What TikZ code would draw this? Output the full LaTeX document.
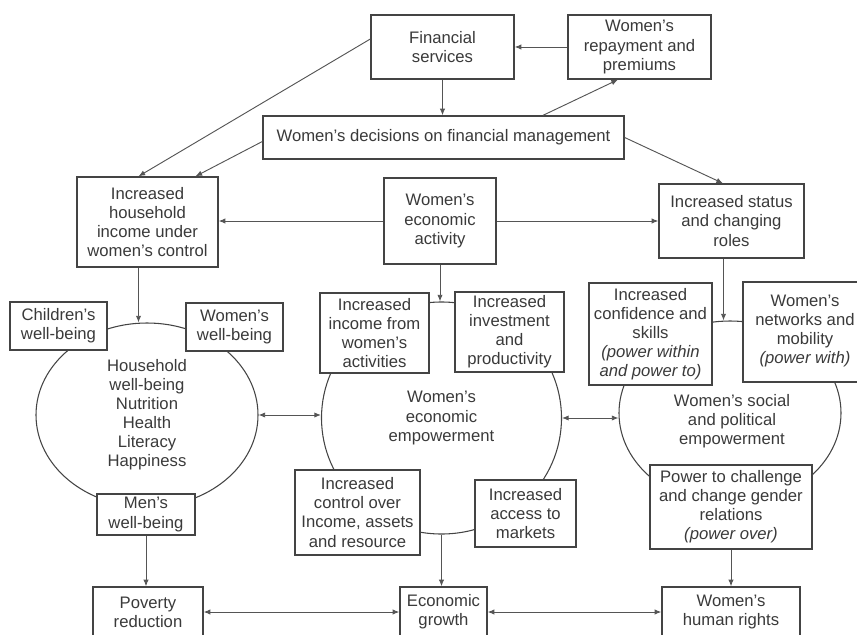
\documentclass[tikz,border=0pt]{standalone}
\usepackage{fontspec}
\setmainfont{Liberation Sans}
\usetikzlibrary{shapes.geometric,arrows.meta,calc}
\definecolor{linec}{HTML}{444444}
\definecolor{arrc}{HTML}{555555}
\definecolor{textc}{HTML}{3A3A3A}
\begin{document}
\begin{tikzpicture}[x=0.75pt,y=-0.75pt,
  font=\fontsize{12.5}{14.3}\selectfont,
  bx/.style={draw=linec, line width=1pt, fill=white, inner sep=0pt, align=center, text=textc},
  sz/.style 2 args={minimum width=#1*0.75pt, minimum height=#2*0.75pt},
  el/.style={draw=linec, line width=0.8pt, ellipse, inner sep=0pt, align=center, text=textc},
  arr/.style={draw=arrc, line width=0.7pt, -{Latex[length=5pt,width=4pt]}},
  darr/.style={draw=arrc, line width=0.7pt, {Latex[length=5pt,width=4pt]}-{Latex[length=5pt,width=4pt]}},
  txt/.style={align=center, text=textc, inner sep=0pt}]
\useasboundingbox (0,0) rectangle (857,635);
\clip (0,0) rectangle (857,635);

% ellipses
\node[el, sz={222}{184}] (hh) at (147,415) {Household\\well-being\\Nutrition\\Health\\Literacy\\Happiness};
\node[el, sz={240}{232}] (ee) at (441.5,418) {Women's\\economic\\empowerment};
\node[el, sz={222}{184}] (sp) at (730,413) {};
\node[txt] (spt) at (732,421) {Women's social\\and political\\empowerment};

% boxes
\node[bx, sz={143}{64}] (fs) at (442.5,47) {Financial\\services};
\node[bx, sz={143}{64}] (rp) at (639.5,47) {Women's\\repayment and\\premiums};
\node[bx, sz={361}{43}] (dec) at (443.5,137.5) {Women's decisions on financial management};
\node[bx, sz={141}{90}] (hinc) at (147.5,222) {Increased\\household\\income under\\women's control};
\node[bx, sz={112}{86}] (eact) at (440,221) {Women's\\economic\\activity};
\node[bx, sz={145}{74}] (stat) at (731.5,221) {Increased status\\and changing\\roles};
\node[bx, sz={97}{48}] (cw) at (58.5,326) {Children's\\well-being};
\node[bx, sz={97}{48}] (ww) at (234.5,327) {Women's\\well-being};
\node[bx, sz={98}{41}] (mw) at (146,514.5) {Men's\\well-being};
\node[bx, sz={109}{80}] (inc) at (374.5,333) {Increased\\income from\\women's\\activities};
\node[bx, sz={109}{80}] (inv) at (509.5,332) {Increased\\investment\\and\\productivity};
\node[bx, sz={125}{85}] (ctl) at (357.5,512.5) {Increased\\control over\\Income, assets\\and resource};
\node[bx, sz={101}{67}] (acc) at (525.5,513.5) {Increased\\access to\\markets};
\node[bx, sz={123}{102}] (conf) at (650.5,334) {Increased\\confidence and\\skills\\\textit{(power within}\\\textit{and power to)}};
\node[bx, sz={127}{100}] (net) at (806.5,332) {};
\node[txt] (nett) at (805,331) {Women's\\networks and\\mobility\\\textit{(power with)}};
\node[bx, sz={162}{84}] (pow) at (731,507) {Power to challenge\\and change gender\\relations\\\textit{(power over)}};
\node[bx, sz={110}{50}] (pov) at (148,612) {Poverty\\reduction};
\node[bx, sz={87}{50}] (eg) at (443.5,612) {Economic\\growth};
\node[bx, sz={138}{50}] (hr) at (731,612) {Women's\\human rights};

% connectors
\draw[arr] ($(fs.west)+(0,-8)$) -- ($(hinc.north)+(-9,0)$);
\draw[arr] ($(dec.west)+(0,4)$) -- ($(hinc.north)+(48,0)$);
\draw[arr] (fs.south) -- (fs.south |- dec.north);
\draw[arr] (rp.west) -- (fs.east);
\draw[arr] ($(dec.north)+(99.5,0)$) -- ($(rp.south)+(-21.5,0)$);
\draw[arr] (dec.east) -- ($(stat.north)+(-8.5,0)$);
\draw[arr] (eact.west) -- (hinc.east |- eact.west);
\draw[arr] (eact.east) -- (stat.west |- eact.east);
\coordinate (a1) at ($(hinc.south)+(-9,0)$);
\draw[arr] (a1) -- (a1 |- hh.north);
\draw[arr] (eact.south) -- (eact.south |- ee.north);
\coordinate (a2) at ($(stat.south)+(-8,0)$);
\draw[arr] (a2) -- (a2 |- sp.north);
\draw[darr] (hh.east) -- (hh.east -| ee.west);
\draw[darr] (ee.east) -- (ee.east -| sp.west);
\draw[arr] (mw.south) -- (mw.south |- pov.north);
\draw[arr] (ee.south) -- (ee.south |- eg.north);
\draw[arr] (pow.south) -- (pow.south |- hr.north);
\draw[darr] (pov.east) -- (eg.west);
\draw[darr] (eg.east) -- (hr.west);
\end{tikzpicture}
\end{document}
